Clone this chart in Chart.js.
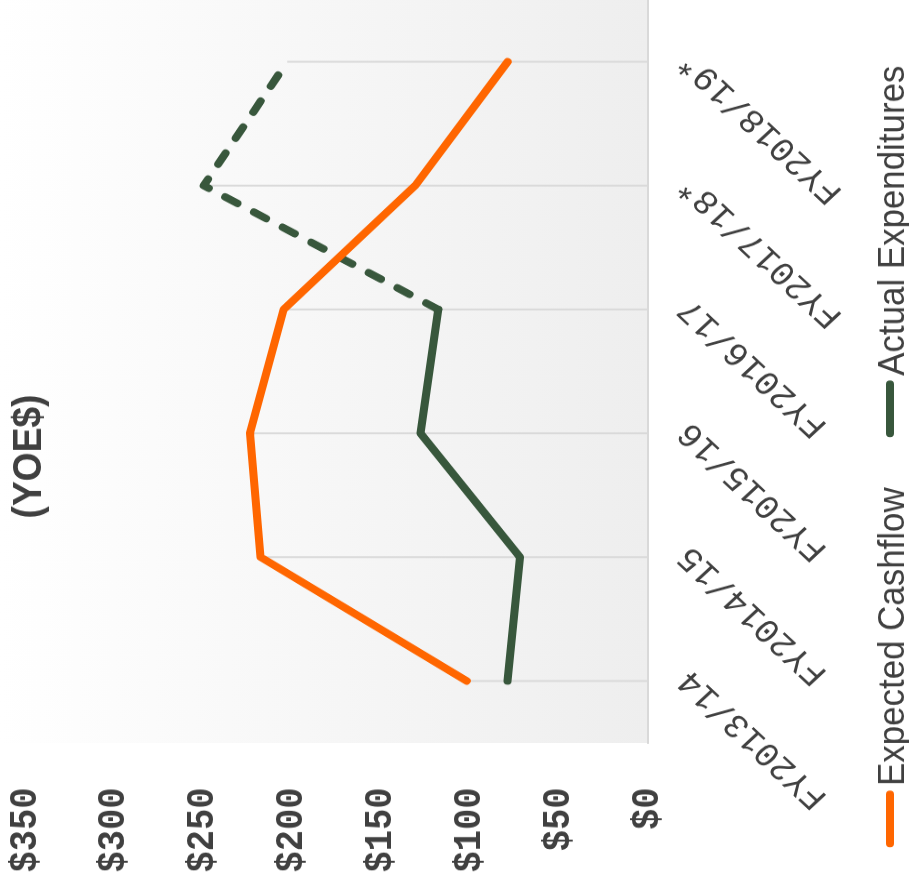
<!DOCTYPE html>
<html>
<head>
<meta charset="utf-8">
<script src="https://cdn.jsdelivr.net/npm/chart.js@4/dist/chart.umd.min.js"></script>
<style>
  html, body { margin: 0; padding: 0; background: #ffffff; overflow: hidden; width: 909px; height: 888px; }
  /* the chart is laid out upright, then turned a quarter turn counter-clockwise */
  #wrap { position: absolute; left: 0; top: 0; width: 955px; height: 909px;
          transform-origin: 0 0; transform: translate(0px, 888px) rotate(-90deg) scaleX(0.93); }
  canvas { display: block; }
</style>
</head>
<body>
<div id="wrap"><canvas id="chart" width="955" height="909" style="width:955px;height:909px"></canvas></div>
<script>
const categories = ['FY2013/14', 'FY2014/15', 'FY2015/16', 'FY2016/17', 'FY2017/18*', 'FY2018/19*'];
const expectedCashflow = [102, 218, 224, 205, 131, 79];
const actualExpenditures = [79, 72, 128, 118, 250, 203];
const seriesNames = ['Expected Cashflow', 'Actual Expenditures'];
const seriesColors = ['#ff6600', '#38573c'];
const valueMin = 0;
const valueMax = 350;
const valueStep = 50;
const titleText = '(YOE$)';
const projectedFrom = 3; // Actual Expenditures is dashed from this category on

const TEXT = '#404040';
const GRID = '#d9d9d9';

// soft white-to-grey wash behind the plot
const backdrop = {
  id: 'backdrop',
  beforeDraw(chart) {
    const { ctx, chartArea: a } = chart;
    const g = ctx.createLinearGradient(0, 0, 0, a.bottom);
    g.addColorStop(0, '#ffffff');
    g.addColorStop(1, '#eeeeee');
    ctx.save();
    ctx.fillStyle = g;
    ctx.fillRect(a.left, 0, a.right - a.left, a.bottom);
    ctx.restore();
  }
};

// vertical drop lines from the highest point of each category to the axis
const dropLines = {
  id: 'dropLines',
  beforeDatasetsDraw(chart) {
    const { ctx, chartArea: a, scales: { x, y } } = chart;
    ctx.save();
    ctx.strokeStyle = GRID;
    ctx.lineWidth = 2;
    chart.data.labels.forEach((_, i) => {
      const top = Math.max(...chart.data.datasets.map(d => d.data[i]));
      const px = x.getPixelForValue(i);
      ctx.beginPath();
      ctx.moveTo(px, y.getPixelForValue(top));
      ctx.lineTo(px, a.bottom);
      ctx.stroke();
    });
    ctx.restore();
  }
};

// title and legend
const headings = {
  id: 'headings',
  afterDraw(chart) {
    const { ctx } = chart;
    const center = 464;
    ctx.save();
    ctx.fillStyle = TEXT;
    ctx.font = 'bold 40px "Liberation Sans", Arial, sans-serif';
    ctx.textAlign = 'center';
    ctx.textBaseline = 'alphabetic';
    ctx.fillText(titleText, center, 41);

    ctx.font = '37.5px "Liberation Sans", Arial, sans-serif';
    ctx.textAlign = 'left';
    const sym = 61, gap = 5, between = 54, lw = 8;
    const widths = seriesNames.map(n => ctx.measureText(n).width);
    const total = widths.reduce((s, w) => s + sym + gap + w, 0) + between * (seriesNames.length - 1);
    let x0 = center - total / 2;
    const symY = 890, baseY = 904;
    seriesNames.forEach((name, i) => {
      ctx.strokeStyle = seriesColors[i];
      ctx.lineWidth = lw;
      ctx.lineCap = 'round';
      ctx.beginPath();
      ctx.moveTo(x0 + lw / 2, symY);
      ctx.lineTo(x0 + sym - lw / 2, symY);
      ctx.stroke();
      ctx.fillStyle = TEXT;
      ctx.fillText(name, x0 + sym + gap, baseY);
      x0 += sym + gap + widths[i] + between;
    });
    ctx.restore();
  }
};

function noPadding(scale) {
  scale.paddingTop = 0;
  scale.paddingBottom = 0;
  scale.paddingLeft = 0;
  scale.paddingRight = 0;
}

new Chart(document.getElementById('chart'), {
  type: 'line',
  data: {
    labels: categories,
    datasets: [
      {
        label: seriesNames[0],
        data: expectedCashflow,
        borderColor: seriesColors[0],
        backgroundColor: seriesColors[0],
        borderWidth: 8,
        borderCapStyle: 'round',
        borderJoinStyle: 'round',
        pointRadius: 0,
        pointHoverRadius: 0,
        tension: 0
      },
      {
        label: seriesNames[1],
        data: actualExpenditures,
        borderColor: seriesColors[1],
        backgroundColor: seriesColors[1],
        borderWidth: 8,
        borderCapStyle: 'round',
        borderJoinStyle: 'round',
        pointRadius: 0,
        pointHoverRadius: 0,
        tension: 0,
        segment: {
          borderDash: c => (c.p0DataIndex >= projectedFrom ? [14, 19] : undefined)
        }
      }
    ]
  },
  options: {
    responsive: false,
    devicePixelRatio: 1,
    animation: false,
    events: [],
    layout: { padding: { top: 26, left: 0, right: 0, bottom: 0 } },
    plugins: {
      legend: { display: false },
      title: { display: false },
      tooltip: { enabled: false }
    },
    scales: {
      x: {
        offset: true,
        grid: { display: false, drawTicks: false },
        border: { display: true, color: GRID, width: 2 },
        ticks: {
          color: TEXT,
          font: { family: '"Liberation Mono", "DejaVu Sans Mono", monospace', size: 36, lineHeight: 1.2 },
          minRotation: 45,
          maxRotation: 45,
          autoSkip: false,
          padding: 21,
          labelOffset: 6
        },
        afterFit(scale) { scale.height = 261; noPadding(scale); }
      },
      y: {
        min: valueMin,
        max: valueMax,
        grid: { display: false, drawTicks: false },
        border: { display: false },
        ticks: {
          stepSize: valueStep,
          color: TEXT,
          font: { family: '"Liberation Mono", "DejaVu Sans Mono", monospace', size: 38, weight: 'bold' },
          padding: 48,
          callback: v => '$' + v
        },
        afterFit(scale) { scale.width = 156; noPadding(scale); }
      }
    }
  },
  plugins: [backdrop, dropLines, headings]
});
</script>
</body>
</html>
